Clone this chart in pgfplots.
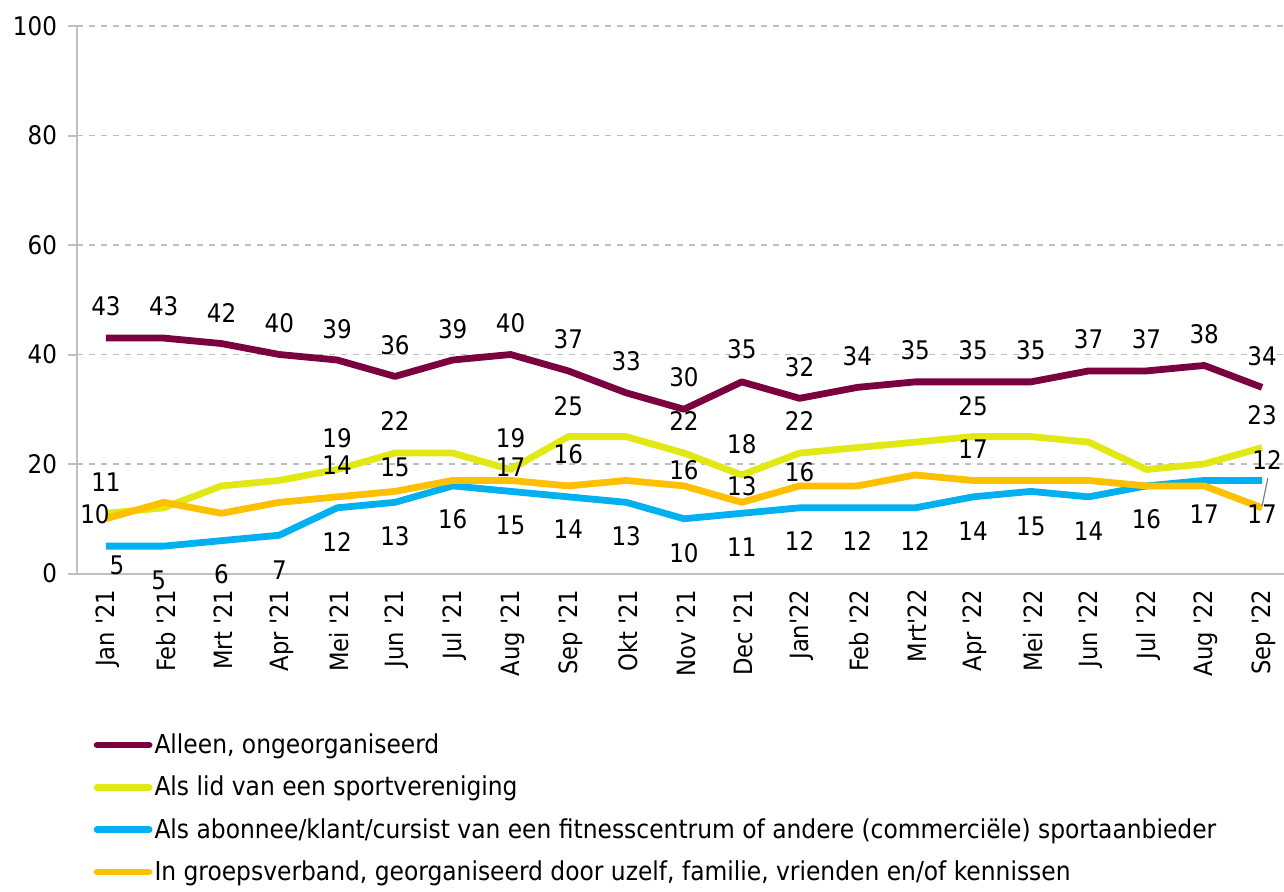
\documentclass[border=0pt]{standalone}
\usepackage{pgfplots}
\pgfplotsset{compat=1.18}
\usepackage{fontspec}
\setmainfont{DejaVu Sans Condensed}
\definecolor{cpurple}{RGB}{123,0,63}
\definecolor{cyellow}{RGB}{225,232,20}
\definecolor{cblue}{RGB}{0,176,240}
\definecolor{corange}{RGB}{255,192,0}
\definecolor{cgrid}{RGB}{191,191,191}
\newcommand\q{\textquotesingle}
\begin{document}
\begin{tikzpicture}
\begin{axis}[
  name=ax,
  scale only axis,
  width=603.5pt, height=273.75pt,
  xmin=-0.5, xmax=20.38, ymin=0, ymax=100,
  clip=false,
  axis line style={cgrid, line width=1pt},
  axis x line*=bottom, axis y line*=left,
  ytick={0,20,40,60,80,100},
  ymajorgrids, grid style={cgrid, dashed, line width=0.7pt},
  major tick style={cgrid, line width=1pt},
  minor tick style={cgrid, line width=1pt},
  tick align=outside,
  major tick length=4.5pt,
  xtick={0,...,20},
  x tick style={draw=none},
  minor xtick={-0.5,0.5,...,20.5},
  minor tick length=3.5pt,
  xticklabels={Jan \q21,Feb \q21,Mrt \q21,Apr \q21,Mei \q21,Jun \q21,Jul \q21,Aug \q21,Sep \q21,Okt \q21,Nov \q21,Dec \q21,Jan\q22,Feb \q22,Mrt\q22,Apr \q22,Mei \q22,Jun \q22,Jul \q22,Aug \q22,Sep \q22},
  xticklabel style={rotate=90, anchor=east, font=\fontsize{12.6pt}{15pt}\selectfont, yshift=-1pt},
  yticklabel style={font=\fontsize{12.8pt}{15pt}\selectfont, xshift=-2pt},
  /pgf/number format/assume math mode=true,
  every node near coord/.style={font=\fontsize{12.8pt}{15pt}\selectfont, text=black, anchor=center, inner sep=0pt},
  legend style={draw=none, fill=none, at={(axis description cs:0.0135,-0.288)}, anchor=north west,
    font=\fontsize{13pt}{15pt}\selectfont, row sep=7.8pt, inner sep=0pt,
    nodes={inner sep=1pt}},
  legend cell align=left,
  legend image code/.code={\draw[#1, line cap=round] (0pt,0pt) -- (26pt,0pt);},
  every axis plot/.append style={line width=3.4pt, line join=round},
]
% series lines
\addplot[cpurple, mark=none] table[x=x,y=y] {
x y
0 43
1 43
2 42
3 40
4 39
5 36
6 39
7 40
8 37
9 33
10 30
11 35
12 32
13 34
14 35
15 35
16 35
17 37
18 37
19 38
20 34
};
\addlegendentry{Alleen, ongeorganiseerd}
\addplot[cyellow, mark=none] table[x=x,y=y] {
x y
0 11
1 12
2 16
3 17
4 19
5 22
6 22
7 19
8 25
9 25
10 22
11 18
12 22
13 23
14 24
15 25
16 25
17 24
18 19
19 20
20 23
};
\addlegendentry{Als lid van een sportvereniging}
\addplot[cblue, mark=none] table[x=x,y=y] {
x y
0 5
1 5
2 6
3 7
4 12
5 13
6 16
7 15
8 14
9 13
10 10
11 11
12 12
13 12
14 12
15 14
16 15
17 14
18 16
19 17
20 17
};
\addlegendentry{Als abonnee/klant/cursist van een fitnesscentrum of andere (commerciële) sportaanbieder}
\addplot[corange, mark=none] table[x=x,y=y] {
x y
0 10
1 13
2 11
3 13
4 14
5 15
6 17
7 17
8 16
9 17
10 16
11 13
12 16
13 16
14 18
15 17
16 17
17 17
18 16
19 16
20 12
};
\addlegendentry{In groepsverband, georganiseerd door uzelf, familie, vrienden en/of kennissen}
% leader line for last orange label
\draw[gray, line width=0.6pt] (axis cs:20,12.3) -- (axis cs:20.1,17.4);
% data labels (dx, dy in px of the reference; 1px = 0.5pt)
\pgfplotsset{lbl/.style={draw=none, mark=none, forget plot, nodes near coords, point meta=explicit symbolic,
  visualization depends on={value \thisrow{dx}\as\dx},
  visualization depends on={value \thisrow{dy}\as\dy},
  every node near coord/.append style={xshift=0.5*\dx pt, yshift=0.5*\dy pt}}}
\addplot[lbl] table[x=x,y=y,meta=y] {
x y dx dy
0 43 0 32
1 43 0 32
2 42 0 31
3 40 0 31
4 39 0 31
5 36 0 31
6 39 0 31
7 40 0 31
8 37 0 32
9 33 0 32
10 30 0 32
11 35 0 33
12 32 0 31
13 34 0 31
14 35 0 32
15 35 0 32
16 35 0 32
17 37 0 32
18 37 0 32
19 38 0 31
20 34 0 31
};
\addplot[lbl] table[x=x,y=y,meta=y] {
x y dx dy
0 11 0 31
4 19 0 31
5 22 0 32
7 19 0 31
8 25 0 30
10 22 0 32
11 18 0 31
12 22 0 32
15 25 0 30
20 23 0 32
};
\addplot[lbl] table[x=x,y=y,meta=y] {
x y dx dy
0 5 11 -19
1 5 -5 -34
2 6 0 -34
3 7 0 -35
4 12 0 -34
5 13 0 -34
6 16 0 -33
7 15 0 -34
8 14 0 -32
9 13 0 -34
10 10 0 -34
11 11 0 -34
12 12 0 -33
13 12 0 -33
14 12 0 -33
15 14 0 -34
16 15 0 -35
17 14 0 -34
18 16 0 -33
19 17 0 -34
20 17 0 -34
};
\addplot[lbl] table[x=x,y=y,meta=y] {
x y dx dy
0 10 -11 5
4 14 0 32
5 15 0 24
7 17 0 13
8 16 0 32
10 16 0 16
11 13 0 16
12 16 0 14
15 17 0 31
20 12 5 48
};
\end{axis}
\pgfresetboundingbox
\path ([shift={(-38.5pt,-158.75pt)}]ax.south west) rectangle ([shift={(603.5pt,286.75pt)}]ax.south west);
\end{tikzpicture}
\end{document}
